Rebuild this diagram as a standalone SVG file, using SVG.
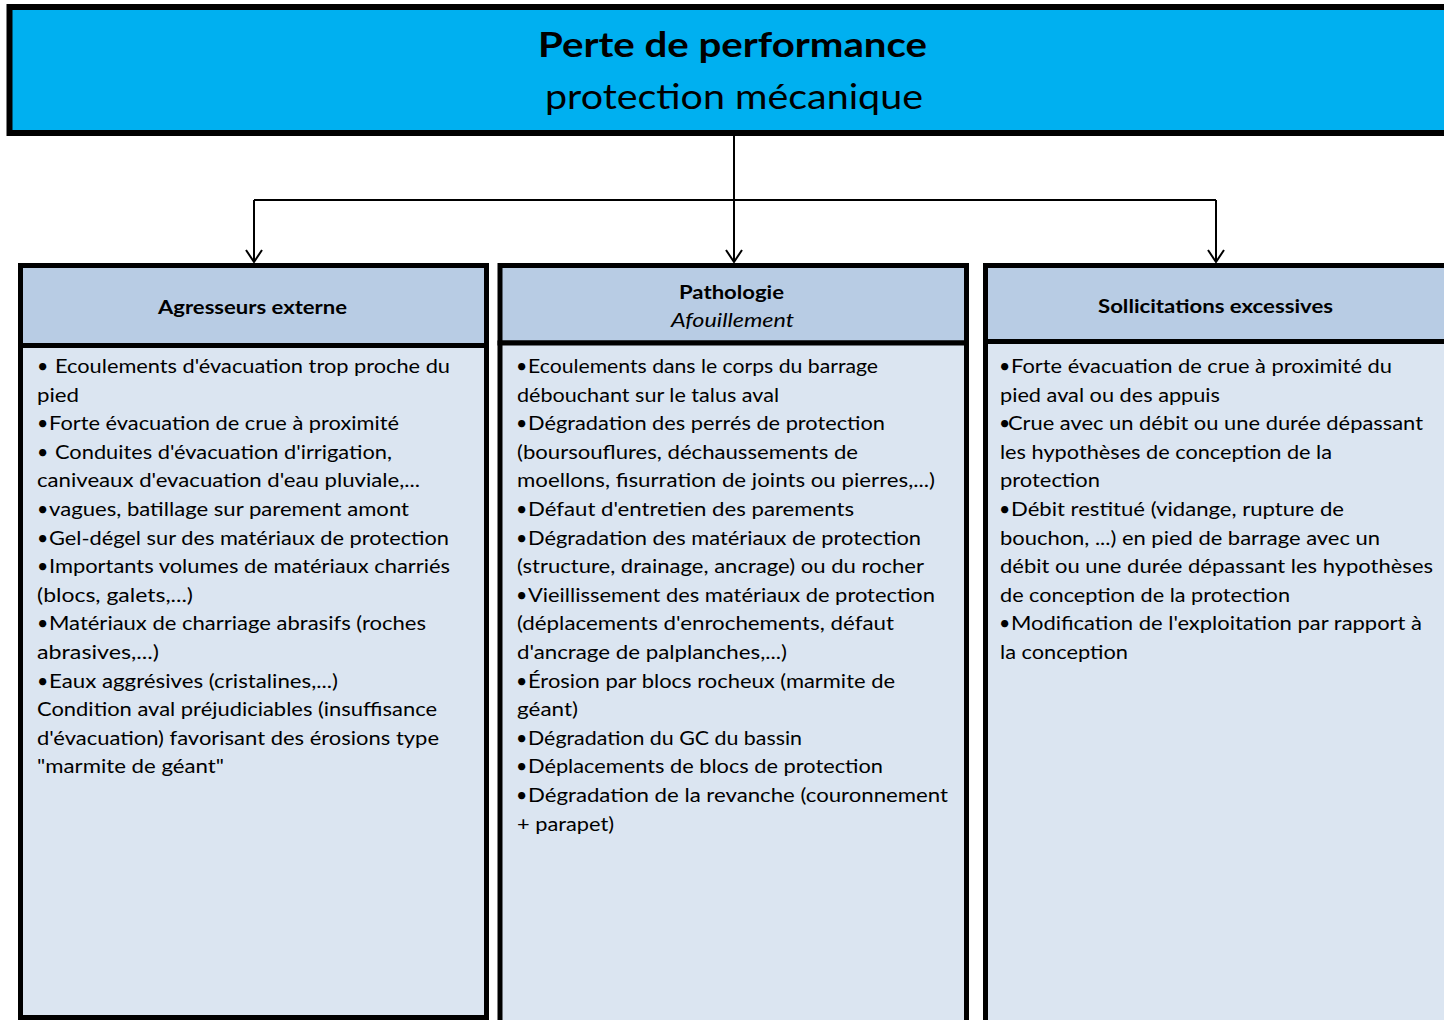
<svg xmlns="http://www.w3.org/2000/svg" width="1444" height="1020" viewBox="0 0 1444 1020">
<defs>
<style>
.box{stroke:#000;stroke-width:5}
.title{fill:#00B0F0;stroke:#000;stroke-width:6}
.hd{fill:#B8CCE4}
.bd{fill:#DBE5F1}
text{font-family:Lato,"Liberation Sans",Arial,sans-serif;fill:#000}
.t{font-size:19.5px}
.hb{font-size:19.5px;font-weight:bold;text-anchor:middle}
.hi{font-size:19.5px;font-style:italic;text-anchor:middle}
.tb{font-size:35px;font-weight:bold;text-anchor:middle}
.tn{font-size:35px;text-anchor:middle}
.wire{fill:none;stroke:#000;stroke-width:2}
</style>
<marker id="arr" markerUnits="userSpaceOnUse" markerWidth="16" markerHeight="20" refX="13" refY="10" orient="auto" viewBox="0 0 16 20">
<path d="M1,2 L13,10 L1,18" fill="none" stroke="#000" stroke-width="2"/>
</marker>
</defs>
<rect width="1444" height="1020" fill="#fff"/>

<g id="title">
<rect class="title" x="9.5" y="7" width="1444" height="126"/>
<text class="tb" x="732.5" y="57" textLength="389" lengthAdjust="spacingAndGlyphs">Perte de performance</text>
<text class="tn" x="734" y="109" textLength="378" lengthAdjust="spacingAndGlyphs">protection mécanique</text>
</g>

<g id="connectors">
<path class="wire" d="M734,136 V200"/>
<path class="wire" d="M254,200 H1216"/>
<path class="wire" d="M254,200 V262" marker-end="url(#arr)"/>
<path class="wire" d="M734,200 V262" marker-end="url(#arr)"/>
<path class="wire" d="M1216,200 V262" marker-end="url(#arr)"/>
</g>

<g id="col1">
<rect class="box hd" x="20.5" y="265.5" width="466" height="80"/>
<rect class="box bd" x="20.5" y="345.5" width="466" height="672"/>
<text class="hb" x="252.5" y="314" textLength="189" lengthAdjust="spacingAndGlyphs">Agresseurs externe</text>
<g class="t">
<text x="37" y="373">•</text><text x="55" y="373" textLength="395" lengthAdjust="spacingAndGlyphs">Ecoulements d'évacuation trop proche du</text>
<text x="37" y="401.6" textLength="42" lengthAdjust="spacingAndGlyphs">pied</text>
<text x="37" y="430.2">•</text><text x="49" y="430.2" textLength="350" lengthAdjust="spacingAndGlyphs">Forte évacuation de crue à proximité</text>
<text x="37" y="458.8">•</text><text x="55" y="458.8" textLength="337" lengthAdjust="spacingAndGlyphs">Conduites d'évacuation d'irrigation,</text>
<text x="37" y="487.4" textLength="383" lengthAdjust="spacingAndGlyphs">caniveaux d'evacuation d'eau pluviale,...</text>
<text x="37" y="516">•</text><text x="49" y="516" textLength="360" lengthAdjust="spacingAndGlyphs">vagues, batillage sur parement amont</text>
<text x="37" y="544.6">•</text><text x="49" y="544.6" textLength="400" lengthAdjust="spacingAndGlyphs">Gel-dégel sur des matériaux de protection</text>
<text x="37" y="573.2">•</text><text x="49" y="573.2" textLength="401" lengthAdjust="spacingAndGlyphs">Importants volumes de matériaux charriés</text>
<text x="37" y="601.8" textLength="156" lengthAdjust="spacingAndGlyphs">(blocs, galets,...)</text>
<text x="37" y="630.4">•</text><text x="49" y="630.4" textLength="377" lengthAdjust="spacingAndGlyphs">Matériaux de charriage abrasifs (roches</text>
<text x="37" y="659" textLength="122" lengthAdjust="spacingAndGlyphs">abrasives,...)</text>
<text x="37" y="687.6">•</text><text x="49" y="687.6" textLength="289" lengthAdjust="spacingAndGlyphs">Eaux aggrésives (cristalines,...)</text>
<text x="37" y="716.2" textLength="400" lengthAdjust="spacingAndGlyphs">Condition aval préjudiciables (insuffisance</text>
<text x="37" y="744.8" textLength="402" lengthAdjust="spacingAndGlyphs">d'évacuation) favorisant des érosions type</text>
<text x="37" y="773.4" textLength="187" lengthAdjust="spacingAndGlyphs">"marmite de géant"</text>
</g>
</g>

<g id="col2">
<rect class="box hd" x="500" y="265.5" width="466.5" height="77.5"/>
<rect class="box bd" x="500" y="343" width="466.5" height="700"/>
<text class="hb" x="731.5" y="299" textLength="105" lengthAdjust="spacingAndGlyphs">Pathologie</text>
<text class="hi" x="732.5" y="327" textLength="123" lengthAdjust="spacingAndGlyphs">Afouillement</text>
<g class="t">
<text x="516" y="373">•</text><text x="528" y="373" textLength="350" lengthAdjust="spacingAndGlyphs">Ecoulements dans le corps du barrage</text>
<text x="517" y="401.6" textLength="262" lengthAdjust="spacingAndGlyphs">débouchant sur le talus aval</text>
<text x="516" y="430.2">•</text><text x="528" y="430.2" textLength="357" lengthAdjust="spacingAndGlyphs">Dégradation des perrés de protection</text>
<text x="517" y="458.8" textLength="341" lengthAdjust="spacingAndGlyphs">(boursouflures, déchaussements de</text>
<text x="517" y="487.4" textLength="418" lengthAdjust="spacingAndGlyphs">moellons, fisurration de joints ou pierres,...)</text>
<text x="516" y="516">•</text><text x="528" y="516" textLength="326" lengthAdjust="spacingAndGlyphs">Défaut d'entretien des parements</text>
<text x="516" y="544.6">•</text><text x="528" y="544.6" textLength="393" lengthAdjust="spacingAndGlyphs">Dégradation des matériaux de protection</text>
<text x="517" y="573.2" textLength="407" lengthAdjust="spacingAndGlyphs">(structure, drainage, ancrage) ou du rocher</text>
<text x="516" y="601.8">•</text><text x="528" y="601.8" textLength="407" lengthAdjust="spacingAndGlyphs">Vieillissement des matériaux de protection</text>
<text x="517" y="630.4" textLength="377" lengthAdjust="spacingAndGlyphs">(déplacements d'enrochements, défaut</text>
<text x="517" y="659" textLength="270" lengthAdjust="spacingAndGlyphs">d'ancrage de palplanches,...)</text>
<text x="516" y="687.6">•</text><text x="528" y="687.6" textLength="367" lengthAdjust="spacingAndGlyphs">Érosion par blocs rocheux (marmite de</text>
<text x="517" y="716.2" textLength="61" lengthAdjust="spacingAndGlyphs">géant)</text>
<text x="516" y="744.8">•</text><text x="528" y="744.8" textLength="274" lengthAdjust="spacingAndGlyphs">Dégradation du GC du bassin</text>
<text x="516" y="773.4">•</text><text x="528" y="773.4" textLength="355" lengthAdjust="spacingAndGlyphs">Déplacements de blocs de protection</text>
<text x="516" y="802">•</text><text x="528" y="802" textLength="420" lengthAdjust="spacingAndGlyphs">Dégradation de la revanche (couronnement</text>
<text x="517" y="830.6" textLength="97" lengthAdjust="spacingAndGlyphs">+ parapet)</text>
</g>
</g>

<g id="col3">
<rect class="box hd" x="985.5" y="265.5" width="480" height="76"/>
<rect class="box bd" x="985.5" y="341.5" width="480" height="700"/>
<text class="hb" x="1215.5" y="313" textLength="235" lengthAdjust="spacingAndGlyphs">Sollicitations excessives</text>
<g class="t">
<text x="999" y="373">•</text><text x="1011" y="373" textLength="381" lengthAdjust="spacingAndGlyphs">Forte évacuation de crue à proximité du</text>
<text x="1000" y="401.6" textLength="220" lengthAdjust="spacingAndGlyphs">pied aval ou des appuis</text>
<text x="999" y="430.2">•</text><text x="1008" y="430.2" textLength="415" lengthAdjust="spacingAndGlyphs">Crue avec un débit ou une durée dépassant</text>
<text x="1000" y="458.8" textLength="332" lengthAdjust="spacingAndGlyphs">les hypothèses de conception de la</text>
<text x="1000" y="487.4" textLength="100" lengthAdjust="spacingAndGlyphs">protection</text>
<text x="999" y="516">•</text><text x="1011" y="516" textLength="333" lengthAdjust="spacingAndGlyphs">Débit restitué (vidange, rupture de</text>
<text x="1000" y="544.6" textLength="380" lengthAdjust="spacingAndGlyphs">bouchon, ...) en pied de barrage avec un</text>
<text x="1000" y="573.2" textLength="433" lengthAdjust="spacingAndGlyphs">débit ou une durée dépassant les hypothèses</text>
<text x="1000" y="601.8" textLength="290" lengthAdjust="spacingAndGlyphs">de conception de la protection</text>
<text x="999" y="630.4">•</text><text x="1011" y="630.4" textLength="411" lengthAdjust="spacingAndGlyphs">Modification de l'exploitation par rapport à</text>
<text x="1000" y="659" textLength="128" lengthAdjust="spacingAndGlyphs">la conception</text>
</g>
</g>
</svg>
